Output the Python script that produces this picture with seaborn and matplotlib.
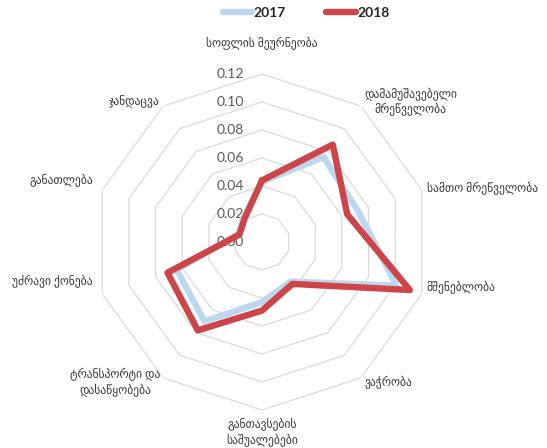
import numpy as np
import matplotlib
matplotlib.use('Agg')
import matplotlib.pyplot as plt
import pandas as pd
import seaborn as sns

categories = ['სოფლის მეურნეობა', 'დამამუშავებელი\nმრეწველობა', 'სამთო მრეწველობა',
              'მშენებლობა', 'ვაჭრობა', 'განთავსების\nსაშუალებები',
              'ტრანსპორტი და\nდასაწყობება', 'უძრავი ქონება', 'განათლება', 'ჯანდაცვა']
vals_2017 = [0.043, 0.075, 0.072, 0.101, 0.035, 0.043, 0.070, 0.064, 0.018, 0.022]
vals_2018 = [0.044, 0.086, 0.064, 0.111, 0.037, 0.049, 0.078, 0.071, 0.017, 0.021]
years = ['2017', '2018']
ring_ticks = [0.00, 0.02, 0.04, 0.06, 0.08, 0.10, 0.12]

sns.set_theme(style='white')
plt.rcParams['font.family'] = ['Lato', 'DejaVu Sans']

n = len(categories)
theta = np.linspace(0, 2 * np.pi, n, endpoint=False)
theta_closed = np.append(theta, 2 * np.pi)

rows = []
for year, vals in zip(years, [vals_2017, vals_2018]):
    vv = vals + [vals[0]]
    for t, v in zip(theta_closed, vv):
        rows.append({'theta': t, 'value': v, 'year': year})
df = pd.DataFrame(rows)

fig = plt.figure(figsize=(5.47, 4.48), dpi=100)
ax = fig.add_axes([94 / 547, 38 / 448, 336 / 547, 336 / 448], projection='polar')
ax.set_theta_offset(np.pi / 2)
ax.set_theta_direction(-1)
ax.set_ylim(0, 0.12)

# decagon grid
for r in ring_ticks[1:]:
    ax.plot(theta_closed, [r] * (n + 1), color='#dadada', lw=0.9, zorder=1)

sns.lineplot(data=df, x='theta', y='value', hue='year', sort=False, estimator=None,
             palette={'2017': '#bdd7ee', '2018': '#cd4548'}, lw=4.6,
             solid_joinstyle='round', solid_capstyle='round', ax=ax, legend=False, zorder=3)

ax.grid(False)
ax.spines['polar'].set_visible(False)
ax.set_xticks([])
ax.set_yticks([])
ax.set_xlabel('')
ax.set_ylabel('')

for r in ring_ticks:
    ax.annotate(f'{r:.2f}', xy=(0, r), xytext=(-13, 0), textcoords='offset points',
                ha='right', va='center', fontsize=10, color='#595959', zorder=2,
                annotation_clip=False)

# small angle / radius nudges for label placement
ang_nudge = [0, 0, 0, -2.5, 0, 0, 0, 5, 2, 0]
rad_nudge = [0, 0, 0, -0.002, 0, 0, 0, 0, 0.004, 0]
for i, (t, lab) in enumerate(zip(theta, categories)):
    s = np.sin(t)
    if abs(s) < 0.1:
        ha = 'center'
    elif s > 0:
        ha = 'left'
    else:
        ha = 'right'
    va = 'center'
    r = 0.124
    if i == 0:
        va = 'bottom'
        r = 0.137
    elif i == 5:
        va = 'top'
        r = 0.126
    ax.text(t + np.deg2rad(ang_nudge[i]), r + rad_nudge[i], lab, ha=ha, va=va,
            multialignment='center', fontsize=8.3, color='#333333', clip_on=False)

handles = [plt.Line2D([], [], color='#bdd7ee', lw=4.6, solid_capstyle='round'),
           plt.Line2D([], [], color='#cd4548', lw=4.6, solid_capstyle='round')]
fig.legend(handles, years, loc='upper center', bbox_to_anchor=(0.56, 1.012), ncol=2,
           frameon=False, handlelength=2.1, handletextpad=0.15, columnspacing=2.9,
           prop={'weight': 'bold', 'size': 10, 'family': ['Lato', 'DejaVu Sans']})

fig.savefig('out.png', dpi=100)
